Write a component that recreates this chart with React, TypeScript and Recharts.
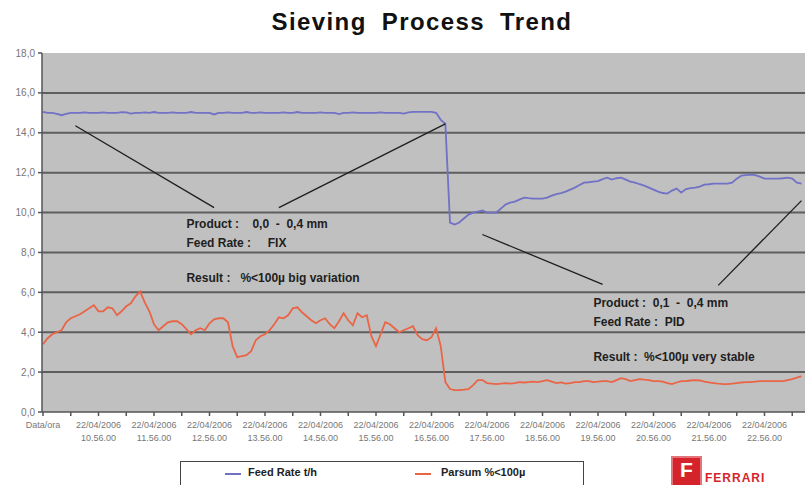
import React from 'react';
import {
  LineChart,
  Line,
  XAxis,
  YAxis,
  CartesianGrid,
  ReferenceLine,
  ReferenceDot,
} from 'recharts';

// 5-minute samples, 22/04/2006 from 09.56 on
const FEED_RATE = [
  15.05, 15.0, 15.0, 14.95, 14.88, 14.95, 15.0, 15.0, 15.0, 15.02,
  15.0, 15.0, 15.0, 15.02, 15.0, 15.0, 15.0, 15.04, 15.02, 14.96,
  15.0, 15.0, 15.02, 15.0, 15.04, 15.0, 15.0, 15.0, 15.02, 15.0,
  15.0, 15.0, 15.04, 15.0, 15.0, 15.0, 15.0, 14.92, 15.0, 15.0,
  15.02, 15.0, 15.0, 15.0, 15.04, 15.0, 15.0, 15.02, 15.0, 15.0,
  15.0, 15.0, 15.02, 15.0, 15.0, 15.04, 15.0, 15.0, 15.0, 15.0,
  15.02, 15.0, 15.0, 15.0, 14.94, 15.0, 15.0, 15.02, 15.0, 15.0,
  15.0, 15.0, 15.0, 15.02, 15.0, 15.0, 15.0, 15.0, 14.96, 15.02,
  15.05, 15.05, 15.05, 15.05, 15.05, 15.0, 14.65, 14.45, 9.5, 9.4,
  9.5, 9.7, 9.9, 10.0, 10.05, 10.1, 10.0, 10.0, 10.0, 10.2,
  10.4, 10.5, 10.55, 10.65, 10.75, 10.72, 10.7, 10.7, 10.7, 10.75,
  10.85, 10.92, 10.98, 11.05, 11.15, 11.25, 11.38, 11.5, 11.52, 11.55,
  11.58, 11.68, 11.75, 11.65, 11.72, 11.75, 11.65, 11.55, 11.5, 11.42,
  11.35, 11.25, 11.15, 11.05, 10.98, 10.95, 11.1, 11.2, 11.0, 11.18,
  11.22, 11.25, 11.3, 11.4, 11.42, 11.45, 11.45, 11.45, 11.45, 11.5,
  11.7, 11.85, 11.88, 11.9, 11.88, 11.8, 11.7, 11.7, 11.7, 11.7,
  11.72, 11.75, 11.7, 11.5, 11.45,
];

const PARSUM = [
  3.4, 3.7, 3.9, 4.0, 4.1, 4.5, 4.7, 4.8, 4.9, 5.05,
  5.2, 5.35, 5.05, 5.05, 5.25, 5.2, 4.85, 5.05, 5.3, 5.45,
  5.8, 6.05, 5.5, 5.05, 4.4, 4.1, 4.3, 4.5, 4.55, 4.55,
  4.4, 4.15, 3.9, 4.1, 4.2, 4.1, 4.45, 4.65, 4.7, 4.7,
  4.5, 3.3, 2.75, 2.8, 2.85, 3.05, 3.6, 3.8, 3.9, 4.1,
  4.4, 4.75, 4.7, 4.85, 5.2, 5.25, 5.0, 4.8, 4.6, 4.45,
  4.6, 4.7, 4.4, 4.2, 4.55, 4.95, 4.6, 4.35, 4.95, 4.75,
  4.85, 3.8, 3.3, 3.9, 4.5, 4.4, 4.2, 4.0, 4.1, 4.2,
  4.3, 3.85, 3.65, 3.6, 3.75, 4.2, 3.3, 1.5, 1.15, 1.1,
  1.1, 1.12, 1.15, 1.35, 1.6, 1.6, 1.45, 1.42, 1.4, 1.42,
  1.45, 1.42, 1.45, 1.5, 1.48, 1.5, 1.52, 1.5, 1.55, 1.6,
  1.52, 1.45, 1.48, 1.42, 1.45, 1.5, 1.5, 1.55, 1.55, 1.5,
  1.52, 1.55, 1.55, 1.5, 1.6, 1.7, 1.65, 1.55, 1.6, 1.65,
  1.62, 1.6, 1.55, 1.55, 1.52, 1.45, 1.4, 1.48, 1.55, 1.55,
  1.58, 1.6, 1.58, 1.52, 1.48, 1.45, 1.42, 1.4, 1.4, 1.42,
  1.45, 1.48, 1.5, 1.5, 1.52, 1.55, 1.55, 1.55, 1.55, 1.55,
  1.55, 1.6, 1.65, 1.72, 1.8,
];

const DATE = '22/04/2006';
const START_MIN = 9 * 60 + 56;
const STEP_MIN = 5;
const Y_TICKS = [0, 2, 4, 6, 8, 10, 12, 14, 16, 18];
const GRID_VALUES = [2, 4, 6, 8, 10, 12, 14, 16];

const BLUE = '#7171c6';
const ORANGE = '#ea6446';
const FONT = '"Liberation Sans", Arial, sans-serif';

function timeLabel(i: number): string {
  if (i === 0) return 'Data/ora';
  const m = START_MIN + i * STEP_MIN;
  const hh = String(Math.floor(m / 60) % 24).padStart(2, '0');
  const mm = String(m % 60).padStart(2, '0');
  return `${DATE} ${hh}.${mm}.00`;
}

const CATS = FEED_RATE.map((_, i) => timeLabel(i));
const data = CATS.map((t, i) => ({ t, feed: FEED_RATE[i], parsum: PARSUM[i] }));

const DateTick = (props: any) => {
  const { x, y, payload } = props;
  const v: string = payload.value;
  if (v !== 'Data/ora' && !v.endsWith('.56.00')) return <g />;
  const [d, h] = v.split(' ');
  return (
    <text x={x} y={y} textAnchor="middle" fill="#777" fontSize={9} fontFamily={FONT}>
      <tspan x={x} dy={10}>{d}</tspan>
      {h && <tspan x={x} dy={13}>{h}</tspan>}
    </text>
  );
};

const noteShape = (lines: string[], gaps: number[]) => (p: any) => (
  <text fill="#1e1e1e" fontSize={12} fontWeight="bold" fontFamily={FONT} style={{ whiteSpace: 'pre' }}>
    {lines.map((s, i) => (
      <tspan key={i} x={p.cx} y={p.cy + gaps[i]}>{s}</tspan>
    ))}
  </text>
);

const NOTE_FIX = ['Product :    0,0  -  0,4 mm', 'Feed Rate :     FIX', 'Result :   %<100\u00b5 big variation'];
const NOTE_PID = ['Product :  0,1  -  0,4 mm', 'Feed Rate :  PID', 'Result :  %<100\u00b5 very stable'];

export default function App() {
  return (
    <div style={styles.page}>
      <div style={styles.title}>Sieving Process Trend</div>
      <LineChart width={805} height={485} data={data} margin={{ top: 53, right: 0, bottom: 0, left: 0 }}>
        <CartesianGrid fill="#c0c0c0" vertical={false} horizontalValues={GRID_VALUES} stroke="#5e5e5e" strokeWidth={2} />
        <XAxis
          dataKey="t"
          scale="point"
          padding={{ left: 1, right: 3.5 }}
          interval={5}
          height={73}
          tickSize={4}
          tickMargin={2}
          tick={<DateTick />}
          stroke="#555"
          strokeWidth={1.5}
        />
        <YAxis
          domain={[0, 18]}
          ticks={Y_TICKS}
          width={42}
          tickSize={4}
          tickMargin={3}
          stroke="#555"
          strokeWidth={1.5}
          tick={{ fill: '#777', fontSize: 10, fontFamily: FONT }}
          tickFormatter={(v: number) => v.toFixed(1).replace('.', ',')}
        />
        <Line type="linear" dataKey="feed" stroke={BLUE} strokeWidth={1.8} dot={false} isAnimationActive={false} />
        <Line type="linear" dataKey="parsum" stroke={ORANGE} strokeWidth={1.8} dot={false} isAnimationActive={false} />
        <ReferenceLine segment={[{ x: CATS[7], y: 14.35 }, { x: CATS[37], y: 10.25 }]} stroke="#1e1e1e" strokeWidth={1.3} />
        <ReferenceLine segment={[{ x: CATS[87], y: 14.45 }, { x: CATS[51], y: 10.25 }]} stroke="#1e1e1e" strokeWidth={1.3} />
        <ReferenceLine segment={[{ x: CATS[95], y: 8.9 }, { x: CATS[121], y: 6.4 }]} stroke="#1e1e1e" strokeWidth={1.3} />
        <ReferenceLine segment={[{ x: CATS[164], y: 10.6 }, { x: CATS[146], y: 6.35 }]} stroke="#1e1e1e" strokeWidth={1.3} />
        <ReferenceDot x={CATS[31]} y={9.25} shape={noteShape(NOTE_FIX, [0, 19, 54])} />
        <ReferenceDot x={CATS[119]} y={5.25} shape={noteShape(NOTE_PID, [0, 19, 54])} />
      </LineChart>
      <div style={styles.legend}>
        <span style={{ ...styles.swatch, left: 44, background: BLUE }} />
        <span style={{ ...styles.legendText, left: 67 }}>Feed Rate t/h</span>
        <span style={{ ...styles.swatch, left: 234, background: ORANGE }} />
        <span style={{ ...styles.legendText, left: 260 }}>Parsum %&lt;100µ</span>
      </div>
      <div style={styles.logoBox}>
        <span style={styles.logoF}>F</span>
      </div>
      <div style={styles.logoText}>FERRARI</div>
    </div>
  );
}

const styles: Record<string, React.CSSProperties> = {
  page: {
    position: 'absolute',
    left: 0,
    top: 0,
    width: 805,
    height: 485,
    overflow: 'hidden',
    background: '#fff',
    fontFamily: FONT,
  },
  title: {
    position: 'absolute',
    left: 222,
    top: 8,
    width: 400,
    textAlign: 'center',
    fontSize: 24,
    fontWeight: 'bold',
    letterSpacing: 1.4,
    wordSpacing: 7,
    color: '#111',
  },
  legend: {
    position: 'absolute',
    left: 180,
    top: 461,
    width: 404,
    height: 40,
    border: '1px solid #444',
    boxSizing: 'border-box',
    background: '#fff',
  },
  swatch: {
    position: 'absolute',
    top: 11,
    width: 16,
    height: 2,
  },
  legendText: {
    position: 'absolute',
    top: 4,
    fontSize: 11,
    fontWeight: 'bold',
    color: '#222',
  },
  logoBox: {
    position: 'absolute',
    left: 671,
    top: 456,
    width: 31,
    height: 32,
    background: '#d5232b',
    boxShadow: 'inset 0 0 0 2px #e5737a',
  },
  logoF: {
    position: 'absolute',
    left: 9,
    top: 2,
    fontSize: 21,
    lineHeight: '24px',
    fontWeight: 'bold',
    color: '#fff',
  },
  logoText: {
    position: 'absolute',
    left: 705,
    top: 471,
    fontSize: 12,
    lineHeight: '14px',
    fontWeight: 'bold',
    color: '#d5232b',
    letterSpacing: 1,
  },
};
